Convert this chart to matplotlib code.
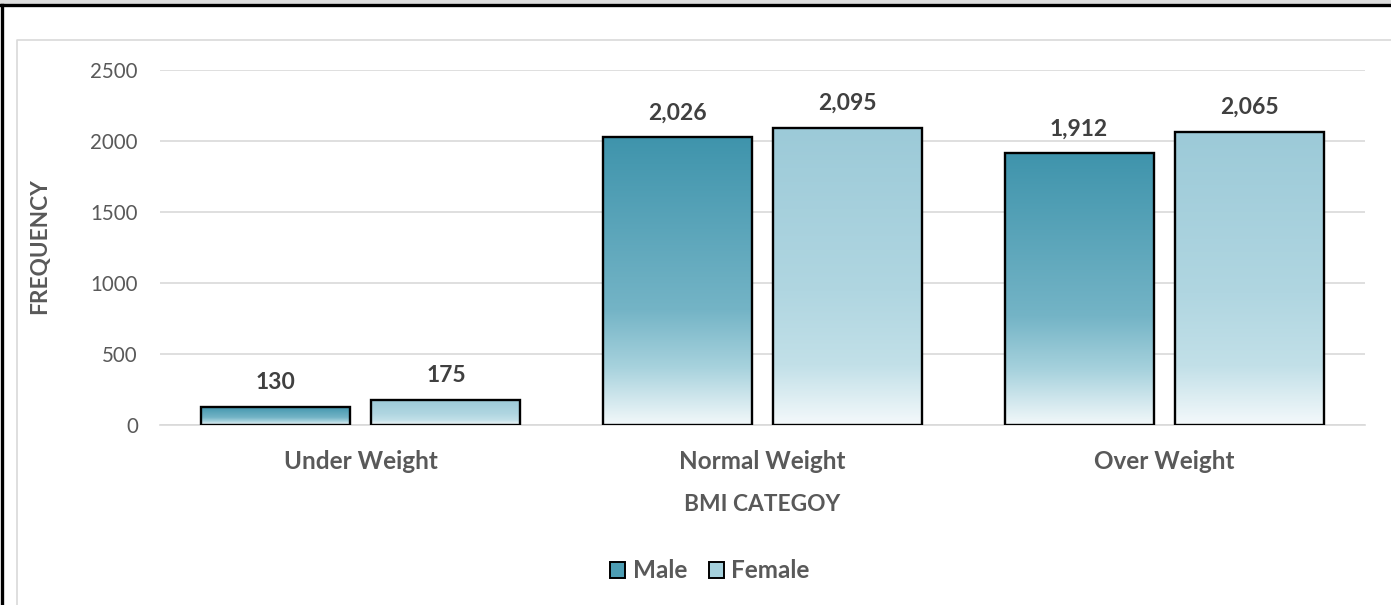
import numpy as np
import matplotlib
matplotlib.use("Agg")
import matplotlib.pyplot as plt
from matplotlib.colors import LinearSegmentedColormap
from matplotlib.patches import Rectangle
from matplotlib.lines import Line2D

plt.rcParams['font.family'] = ['Lato', 'DejaVu Sans']

categories = ["Under Weight", "Normal Weight", "Over Weight"]
series_names = ["Male", "Female"]
male = [130, 2026, 1912]
female = [175, 2095, 2065]
y_ticks = [0, 500, 1000, 1500, 2000, 2500]

TEXT = "#595959"
LABEL = "#404040"
GRID = "#d9d9d9"

male_cmap = LinearSegmentedColormap.from_list(
    "male", [(0.0, "#f2f8fa"), (0.2, "#a7d2dd"), (0.4, "#74b4c6"), (1.0, "#3f94ac")])
female_cmap = LinearSegmentedColormap.from_list(
    "female", [(0.0, "#f4f9fb"), (0.2, "#c2e0e8"), (0.45, "#b0d6e1"), (1.0, "#9ccad8")])

fig = plt.figure(figsize=(13.91, 6.05), dpi=100)
W, H = 1391, 605

# frame decorations: grey strip and black rule at the top, black rule at left
fig.add_artist(Rectangle((0, 1 - 4 / H), 1, 4 / H, transform=fig.transFigure,
                         facecolor="#dedede", edgecolor="none"))
fig.add_artist(Line2D([0, 1], [1 - 5 / H, 1 - 5 / H], transform=fig.transFigure,
                      color="black", lw=2.4))
fig.add_artist(Line2D([1.5 / W, 1.5 / W], [0, 1 - 5 / H], transform=fig.transFigure,
                      color="black", lw=2.4))
# chart area outline
fig.add_artist(Line2D([17 / W, 17 / W, 1], [0, 1 - 40 / H, 1 - 40 / H],
                      transform=fig.transFigure, color=GRID, lw=1.2))

left, right = 160 / W, 1365 / W
bottom, top = 1 - 425 / H, 1 - 70 / H
ax = fig.add_axes([left, bottom, right - left, top - bottom])

x = np.arange(len(categories))
width = 0.371
offset = 0.212

grad = np.linspace(0, 1, 256).reshape(-1, 1)
for vals, sign, cmap in [(male, -1, male_cmap), (female, 1, female_cmap)]:
    bars = ax.bar(x + sign * offset, vals, width, facecolor="none",
                  edgecolor="black", linewidth=1.7, zorder=4)
    for bar, v in zip(bars, vals):
        x0 = bar.get_x()
        im = ax.imshow(grad, cmap=cmap, origin="lower", aspect="auto",
                       extent=(x0, x0 + bar.get_width(), 0, v), zorder=3,
                       interpolation="bilinear")
        im.set_clip_path(bar)
        ax.annotate(f"{v:,}", (bar.get_x() + bar.get_width() / 2, v),
                    xytext=(0, 10), textcoords="offset points",
                    ha="center", va="bottom", fontsize=16.5,
                    fontweight="bold", color=LABEL)

ax.set_xlim(-0.5, len(categories) - 0.5)
ax.set_ylim(0, 2500)
ax.set_yticks(y_ticks)
ax.set_yticklabels([str(t) for t in y_ticks], fontsize=14.8, color=TEXT)
ax.set_xticks(x)
ax.set_xticklabels(categories, fontsize=17.5, fontweight="bold", color=TEXT)
ax.tick_params(axis="both", length=0)
ax.tick_params(axis="y", pad=16)
ax.tick_params(axis="x", pad=18)
ax.grid(axis="y", color=GRID, lw=1.2)
ax.set_axisbelow(True)
for s in ["top", "right", "left"]:
    ax.spines[s].set_visible(False)
ax.spines["bottom"].set_color(GRID)
ax.spines["bottom"].set_linewidth(1.2)

ax.set_xlabel("BMI CATEGOY", fontsize=16.4, fontweight="bold", color=TEXT, labelpad=15)
fig.text(40 / W, 1 - 246 / H, "FREQUENCY", rotation=90, ha="center", va="center",
         fontsize=16.3, fontweight="bold", color=TEXT)

handles = [Rectangle((0, 0), 1, 1, facecolor="#4d9db3", edgecolor="black", lw=1.4),
           Rectangle((0, 0), 1, 1, facecolor="#a5d0dc", edgecolor="black", lw=1.4)]
leg = fig.legend(handles, series_names, loc="center", bbox_to_anchor=(710 / W, 1 - 571 / H),
                 ncol=2, frameon=False, handlelength=0.62, handleheight=0.62,
                 handletextpad=0.3, columnspacing=0.9,
                 prop={"size": 17.5, "weight": "bold"})
for t in leg.get_texts():
    t.set_color(TEXT)

fig.savefig("out.png", dpi=100, facecolor="white")
